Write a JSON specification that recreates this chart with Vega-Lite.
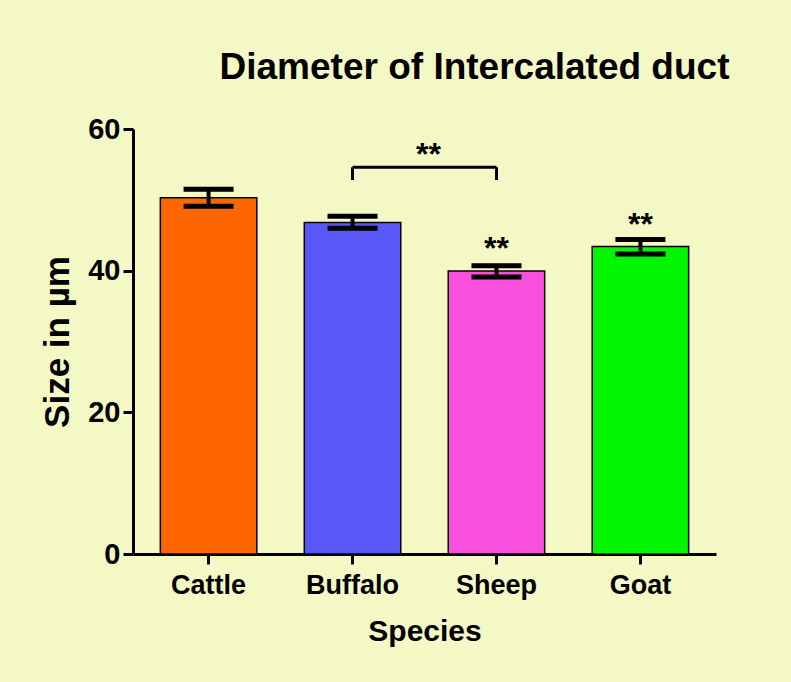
{
  "$schema": "https://vega.github.io/schema/vega-lite/v6.json",
  "autosize": "none",
  "width": 583,
  "height": 425,
  "padding": {"left": 133, "top": 129, "right": 75, "bottom": 128},
  "background": "#F3F8C4",
  "config": {
    "view": {"stroke": null},
    "font": "Liberation Sans",
    "axis": {"domainColor": "black", "domainWidth": 3, "tickColor": "black", "tickWidth": 3, "tickSize": 10, "grid": false, "labelColor": "black", "titleColor": "black", "labelFontWeight": "bold", "titleFontWeight": "bold", "labelFont": "Liberation Sans", "titleFont": "Liberation Sans"}
  },
  "title": {"text": "Diameter of Intercalated duct", "fontSize": 37, "fontWeight": "bold", "font": "Liberation Sans", "color": "black", "frame": "group", "anchor": "middle", "dx": 50, "offset": -1, "baseline": "alphabetic"},
  "datasets": {
    "bars": [
      {"Species": "Cattle", "mean": 50.3, "lo": 49.1, "hi": 51.5},
      {"Species": "Buffalo", "mean": 46.8, "lo": 46.0, "hi": 47.7},
      {"Species": "Sheep", "mean": 39.95, "lo": 39.1, "hi": 40.7},
      {"Species": "Goat", "mean": 43.4, "lo": 42.35, "hi": 44.4}
    ],
    "stars": [
      {"Species": "Sheep", "label": "**", "y": 41.6},
      {"Species": "Goat", "label": "**", "y": 45.1}
    ],
    "bracket": [
      {"Species": "Buffalo", "top": 54.6, "bottom": 52.8},
      {"Species": "Sheep", "top": 54.6, "bottom": 52.8}
    ],
    "bracketH": [
      {"from": "Buffalo", "to": "Sheep", "y": 54.6, "label": "**", "ly": 54.9}
    ]
  },
  "encoding": {
    "x": {
      "field": "Species", "type": "nominal",
      "sort": ["Cattle", "Buffalo", "Sheep", "Goat"],
      "scale": {"domain": ["Cattle", "Buffalo", "Sheep", "Goat"], "paddingInner": 0.33, "paddingOuter": 0.19},
      "axis": {"title": "Species", "labelAngle": 0, "labelFontSize": 27, "titleFontSize": 30, "labelPadding": 8, "titlePadding": 18}
    }
  },
  "layer": [
    {
      "data": {"name": "bars"},
      "mark": {"type": "bar", "stroke": "black", "strokeWidth": 1.5},
      "encoding": {
        "y": {
          "field": "mean", "type": "quantitative",
          "scale": {"domain": [0, 60], "nice": false},
          "axis": {"title": "Size in µm", "values": [0, 20, 40, 60], "labelFontSize": 29, "titleFontSize": 35, "labelPadding": 3, "titlePadding": 12}
        },
        "color": {
          "field": "Species", "type": "nominal",
          "scale": {"domain": ["Cattle", "Buffalo", "Sheep", "Goat"], "range": ["#FF6600", "#5858F8", "#F850DC", "#00F500"]},
          "legend": null
        }
      }
    },
    {
      "data": {"name": "bars"},
      "mark": {"type": "rule", "color": "black", "strokeWidth": 4},
      "encoding": {
        "y": {"field": "lo", "type": "quantitative"},
        "y2": {"field": "hi"}
      }
    },
    {
      "data": {"name": "bars"},
      "mark": {"type": "tick", "color": "black", "opacity": 1, "thickness": 5, "size": 50, "orient": "horizontal"},
      "encoding": {
        "y": {"field": "lo", "type": "quantitative"}
      }
    },
    {
      "data": {"name": "bars"},
      "mark": {"type": "tick", "color": "black", "opacity": 1, "thickness": 5, "size": 50, "orient": "horizontal"},
      "encoding": {
        "y": {"field": "hi", "type": "quantitative"}
      }
    },
    {
      "data": {"name": "stars"},
      "mark": {"type": "text", "fontSize": 32, "fontWeight": "bold", "color": "black", "baseline": "alphabetic", "align": "center"},
      "encoding": {
        "y": {"field": "y", "type": "quantitative"},
        "text": {"field": "label"}
      }
    },
    {
      "data": {"name": "bracket"},
      "mark": {"type": "rule", "color": "black", "strokeWidth": 3},
      "encoding": {
        "y": {"field": "bottom", "type": "quantitative"},
        "y2": {"field": "top"}
      }
    },
    {
      "data": {"name": "bracketH"},
      "mark": {"type": "rule", "color": "black", "strokeWidth": 3},
      "encoding": {
        "x": {"field": "from", "type": "nominal"},
        "x2": {"field": "to"},
        "y": {"field": "y", "type": "quantitative"}
      }
    },
    {
      "data": {"name": "bracketH"},
      "mark": {"type": "text", "fontSize": 32, "fontWeight": "bold", "color": "black", "baseline": "alphabetic", "align": "center", "dx": 76},
      "encoding": {
        "x": {"field": "from", "type": "nominal"},
        "y": {"field": "ly", "type": "quantitative"},
        "text": {"field": "label"}
      }
    }
  ]
}
